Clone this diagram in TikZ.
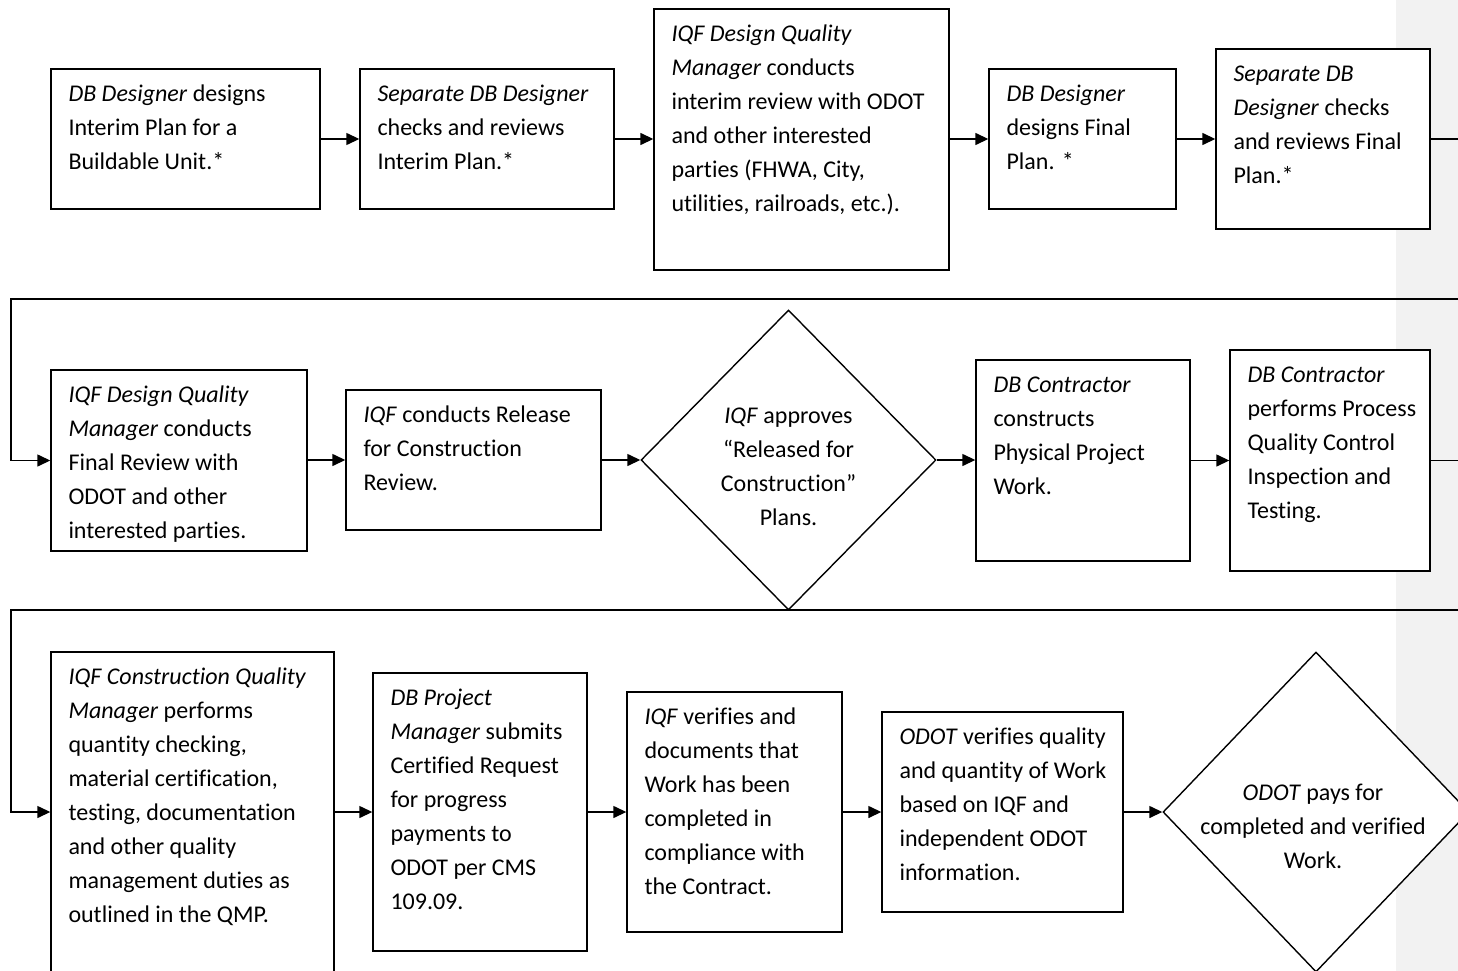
\documentclass[tikz,border=0pt]{standalone}
\usepackage{fontspec}
\setmainfont{Carlito}[Ligatures=NoCommon]
\usetikzlibrary{arrows.meta,shapes.geometric}
\definecolor{bandgray}{HTML}{F2F2F2}
\begin{document}
\begin{tikzpicture}[x=1pt,y=-1pt,
 box/.style={draw=black, line width=1.4pt, fill=white, inner sep=0pt, rectangle},
 dia/.style={draw=black, line width=1.4pt, fill=white, inner sep=0pt, diamond},
 txt/.style={inner sep=0pt, align=left, anchor=north west, font=\fontsize{24}{34}\selectfont},
 ctxt/.style={inner sep=0pt, align=center, anchor=north, font=\fontsize{24}{34}\selectfont},
 arr/.style={line width=1.4pt, -{Triangle[length=13pt,width=12pt]}},
 ln/.style={line width=1.4pt},
 tin/.style={xshift=18pt, yshift=-9.2pt}]
\useasboundingbox (0,0) rectangle (1458,971);
\clip (0,0) rectangle (1458,971);
\fill[white] (0,0) rectangle (1458,971);
\fill[bandgray] (1396,0) rectangle (1458,971);

% row 1
\node[box, minimum width=269pt, minimum height=140pt] (A) at (185.5,139) {};
\node[box, minimum width=254pt, minimum height=140pt] (B) at (487,139) {};
\node[box, minimum width=295pt, minimum height=261pt] (C) at (801.5,139.5) {};
\node[box, minimum width=187pt, minimum height=140pt] (D) at (1082.5,139) {};
\node[box, minimum width=214pt, minimum height=180pt] (E) at (1323,139) {};
% row 2
\node[box, minimum width=256pt, minimum height=181pt] (F) at (179,460.5) {};
\node[box, minimum width=255pt, minimum height=140pt] (G) at (473.5,460) {};
\node[dia, minimum width=295pt, minimum height=300pt] (H) at (788.5,460) {};
\node[box, minimum width=214pt, minimum height=201pt] (I) at (1083,460.5) {};
\node[box, minimum width=200pt, minimum height=221pt] (J) at (1330,460.5) {};
% row 3
\node[box, minimum width=283pt, minimum height=320pt] (K) at (192.5,812) {};
\node[box, minimum width=214pt, minimum height=278pt] (L) at (480,812) {};
\node[box, minimum width=215pt, minimum height=240pt] (M) at (734.5,812) {};
\node[box, minimum width=241pt, minimum height=200pt] (N) at (1002.5,812) {};
\node[dia, minimum width=306pt, minimum height=320pt] (O) at (1316,812) {};

% texts
\node[txt] (At) at ([tin]A.north west) {\strut\textit{DB Designer} designs\\Interim Plan for a\\Buildable Unit.*};
\node[txt] (Bt) at ([tin]B.north west) {\strut\textit{Separate DB Designer}\\checks and reviews\\Interim Plan.*};
\node[txt] (Ct) at ([tin]C.north west) {\strut\textit{IQF Design Quality}\\\textit{Manager} conducts\\interim review with ODOT\\and other interested\\parties (FHWA, City,\\utilities, railroads, etc.).};
\node[txt] (Dt) at ([tin]D.north west) {\strut\textit{DB Designer}\\designs Final\\Plan. *};
\node[txt] (Et) at ([tin]E.north west) {\strut\textit{Separate DB}\\\textit{Designer} checks\\and reviews Final\\Plan.*};
\node[txt] (Ft) at ([tin]F.north west) {\strut\textit{IQF Design Quality}\\\textit{Manager} conducts\\Final Review with\\ODOT and other\\interested parties.};
\node[txt] (Gt) at ([tin]G.north west) {\strut\textit{IQF} conducts Release\\for Construction\\Review.};
\node[ctxt] (Ht) at (788.5,399.2) {\strut\textit{IQF} approves\\“Released for\\Construction”\\Plans.};
\node[txt] (It) at ([tin]I.north west) {\strut\textit{DB Contractor}\\constructs\\Physical Project\\Work.};
\node[txt] (Jt) at ([tin]J.north west) {\strut\textit{DB Contractor}\\performs Process\\Quality Control\\Inspection and\\Testing.};
\node[txt] (Kt) at ([tin]K.north west) {\strut\textit{IQF Construction Quality}\\\textit{Manager} performs\\quantity checking,\\material certification,\\testing, documentation\\and other quality\\management duties as\\outlined in the QMP.};
\node[txt] (Lt) at ([tin]L.north west) {\strut\textit{DB Project}\\\textit{Manager} submits\\Certified Request\\for progress\\payments to\\ODOT per CMS\\109.09.};
\node[txt] (Mt) at ([tin]M.north west) {\strut\textit{IQF} verifies and\\documents that\\Work has been\\completed in\\compliance with\\the Contract.};
\node[txt] (Nt) at ([tin]N.north west) {\strut\textit{ODOT} verifies quality\\and quantity of Work\\based on IQF and\\independent ODOT\\information.};
\node[ctxt] (Ot) at (1313,776.2) {\strut\textit{ODOT} pays for\\completed and verified\\Work.};

% connectors
\coordinate (r1) at (1458,139);
\coordinate (w1a) at (1458,299);
\coordinate (w1b) at (11,299);
\coordinate (r2) at (1458,460.5);
\coordinate (w2a) at (1458,610);
\coordinate (w2b) at (11,610);

\draw[arr] (A.east) -- (B.west);
\draw[arr] (B.east) -- (C.west |- B.east);
\draw[arr] (C.east |- D.west) -- (D.west);
\draw[arr] (D.east) -- (E.west);
\draw[ln] (E.east) -- (r1);
\draw[arr] (w1a) -- (w1b) |- (F.west);
\draw[arr] (F.east |- G.west) -- (G.west);
\draw[arr] (G.east) -- (H.west);
\draw[arr] (H.east) -- (I.west |- H.east);
\draw[arr] (I.east) -- (J.west);
\draw[ln] (J.east) -- (r2);
\draw[arr] (w2a) -- (w2b) |- (K.west);
\draw[arr] (K.east) -- (L.west);
\draw[arr] (L.east) -- (M.west);
\draw[arr] (M.east) -- (N.west);
\draw[arr] (N.east) -- (O.west);
\end{tikzpicture}
\end{document}
